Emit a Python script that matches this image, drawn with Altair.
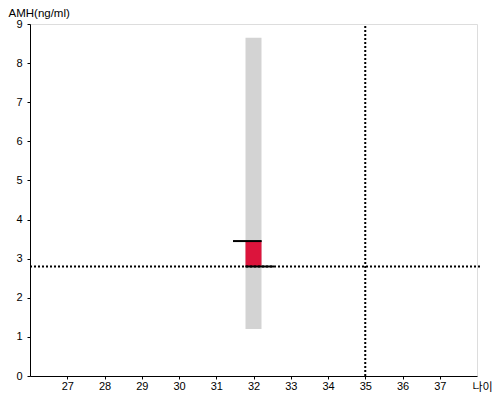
import altair as alt
import pandas as pd

# data
age_center = [32]
range_low = [1.2]
range_high = [8.65]
box_low = [2.8]
box_high = [3.45]
cap_y = [3.45, 2.8]
cap_x_start = [31.45, 31.78]
cap_x_end = [32.22, 32.55]
ref_age = [35]
ref_amh = [2.8]
x_ticks = list(range(27, 38))
y_ticks = list(range(0, 10))
x_domain = [26, 38]
y_domain = [0, 9]

FONT = "Liberation Sans"

xscale = alt.Scale(domain=x_domain, nice=False, zero=False)
yscale = alt.Scale(domain=y_domain, nice=False)

range_df = pd.DataFrame({"x": age_center, "lo": range_low, "hi": range_high})
box_df = pd.DataFrame({"x": age_center, "lo": box_low, "hi": box_high})
cap_df = pd.DataFrame({"y": cap_y, "x1": cap_x_start, "x2": cap_x_end})
hline_df = pd.DataFrame({"y": ref_amh, "x1": [x_domain[0]], "x2": [38.08]})
vline_df = pd.DataFrame({"x": ref_age, "y1": [y_domain[0]], "y2": [y_domain[1]]})

xaxis = alt.Axis(
    values=x_ticks, tickCount=len(x_ticks), title="나이", tickSize=3, labelPadding=1,
    grid=False, labelOverlap=False, labelFlush=False, labelBound=False,
    domainColor="black", tickColor="black", labelColor="black",
    labelFont=FONT, labelFontSize=11,
    titleFont="Noto Sans CJK KR", titleFontSize=11, titleFontWeight="normal",
    titleColor="black", titleAlign="left", titleAnchor="start",
    titleX=442, titleY=14, titleBaseline="alphabetic",
)
yaxis = alt.Axis(
    values=y_ticks, tickCount=len(y_ticks), title="AMH(ng/ml)", tickSize=3, labelPadding=5,
    grid=False, labelOverlap=False, labelFlush=False, labelBound=False,
    domainColor="black", tickColor="black", labelColor="black",
    labelFont=FONT, labelFontSize=11,
    titleFont=FONT, titleFontSize=11.5, titleFontWeight="normal",
    titleColor="black", titleAngle=0, titleAlign="left", titleAnchor="start",
    titleX=-22, titleY=-8, titleBaseline="alphabetic",
)


def X(field):
    return alt.X(field, scale=xscale, axis=xaxis)


def Y(field):
    return alt.Y(field, scale=yscale, axis=yaxis)


range_bar = alt.Chart(range_df).mark_rule(
    color="#d3d3d3", strokeWidth=16, strokeCap="butt"
).encode(x=X("x:Q"), y=Y("lo:Q"), y2="hi:Q")

box_bar = alt.Chart(box_df).mark_rule(
    color="#dc143c", strokeWidth=16, strokeCap="butt"
).encode(x=X("x:Q"), y=Y("lo:Q"), y2="hi:Q")

caps = alt.Chart(cap_df).mark_rule(color="black", strokeWidth=2).encode(
    x=X("x1:Q"), x2="x2:Q", y=Y("y:Q")
)

hline = alt.Chart(hline_df).mark_rule(
    color="black", strokeWidth=2, strokeDash=[2, 2]
).encode(x=X("x1:Q"), x2="x2:Q", y=Y("y:Q"))

vline = alt.Chart(vline_df).mark_rule(
    color="black", strokeWidth=2, strokeDash=[2, 2]
).encode(x=X("x:Q"), y=Y("y1:Q"), y2="y2:Q")

chart = alt.layer(range_bar, box_bar, caps, hline, vline).properties(
    width=447,
    height=352,
    autosize=alt.AutoSizeParams(type="none"),
    padding={"left": 22, "top": 16, "right": 15, "bottom": 16},
).configure_view(stroke=None).configure(background="white")

chart.save("out.html", embed_options={"renderer": "svg", "actions": False})
